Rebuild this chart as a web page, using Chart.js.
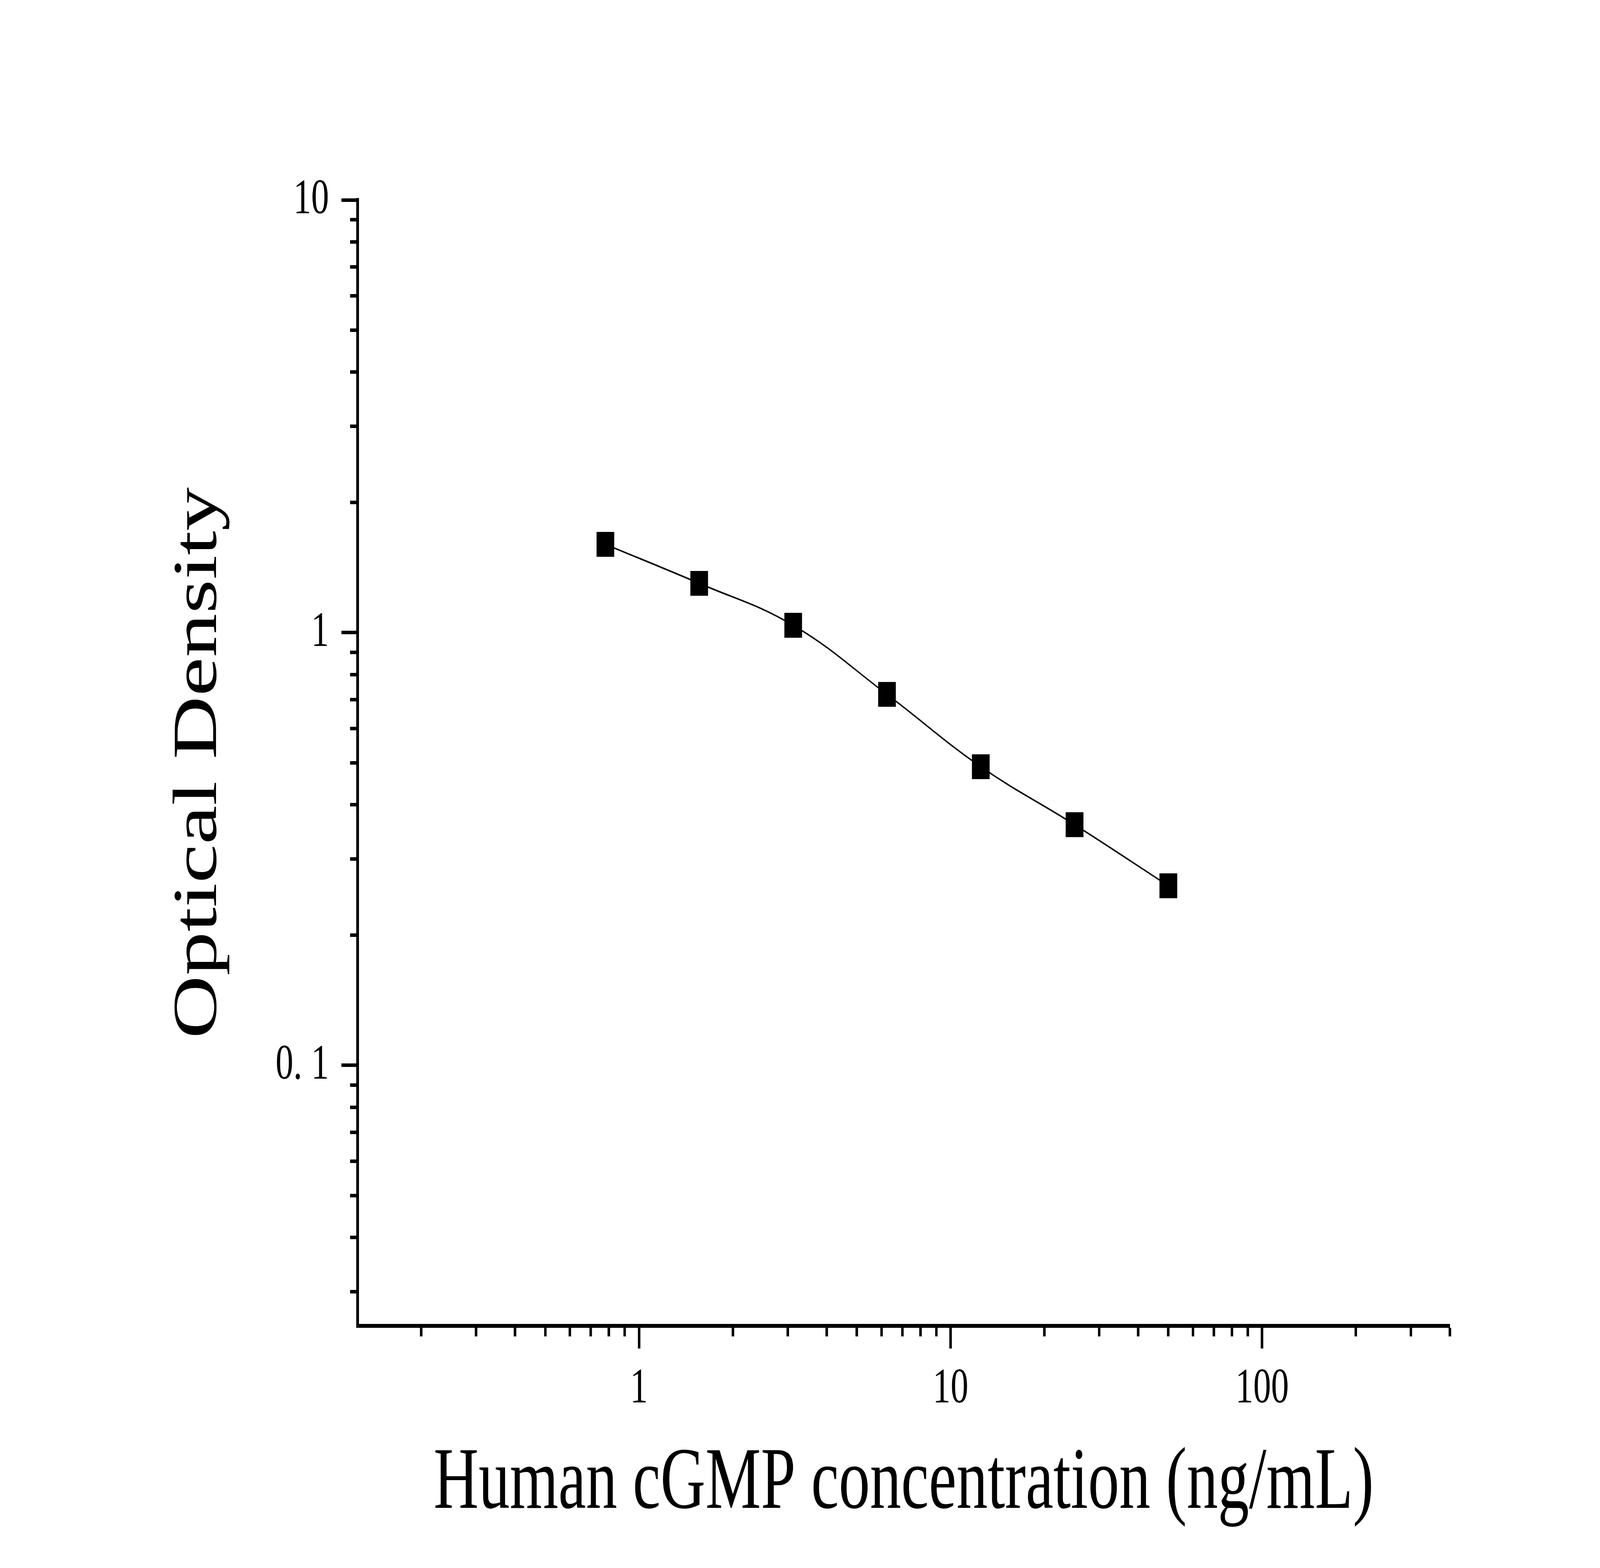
<!DOCTYPE html>
<html>
<head>
<meta charset="utf-8">
<title>Human cGMP standard curve</title>
<script src="https://cdn.jsdelivr.net/npm/chart.js@4.4.1/dist/chart.umd.min.js"></script>
<style>
  html, body { margin: 0; padding: 0; background: #fff; overflow: hidden; }
  /* El lienzo se dibuja a 5749 x 4015 y se ajusta a la ventana */
  #chartCurva { display: block; width: 100vw; height: 100vh; }
</style>
</head>
<body>
<canvas id="chartCurva" width="5749" height="4015" style="width: 100vw; height: 100vh"></canvas>
<script>
// DATOS DE LA CURVA ESTÁNDAR

const concentraciones = [0.78, 1.56, 3.125, 6.25, 12.5, 25, 50];
const densidades = [1.6, 1.3, 1.04, 0.72, 0.49, 0.36, 0.26];

// Marcas de los ejes
const xMayores = [1, 10, 100];
const xMenores = [0.2, 0.3, 0.4, 0.5, 0.6, 0.7, 0.8, 0.9,
  2, 3, 4, 5, 6, 7, 8, 9,
  20, 30, 40, 50, 60, 70, 80, 90,
  200, 300, 400];
const xEtiquetas = ["1", "10", "100"];

const yMayores = [0.1, 1, 10];
const yMenores = [0.03, 0.04, 0.05, 0.06, 0.07, 0.08, 0.09,
  0.2, 0.3, 0.4, 0.5, 0.6, 0.7, 0.8, 0.9,
  2, 3, 4, 5, 6, 7, 8, 9];
const yEtiquetas = ["0. 1", "1", "10"];

const fuente = "'Liberation Serif', 'Times New Roman', serif";

function marcas(mayores, menores) {
  return function (scale) {
    scale.ticks = mayores.concat(menores)
      .sort((a, b) => a - b)
      .map((v) => ({ value: v }));
  };
}

function etiqueta(mayores, textos) {
  return function (value) {
    const i = mayores.indexOf(value);
    return i === -1 ? "" : textos[i];
  };
}

// Las marcas menores son más cortas: se recortan con un guion
function guionX(ctx) {
  if (!ctx.tick || xMayores.includes(ctx.tick.value)) return [];
  return [22, 1000];
}
function guionY(ctx) {
  if (!ctx.tick || yMayores.includes(ctx.tick.value)) return [];
  return [0, 31, 40, 1000];
}

document.addEventListener("DOMContentLoaded", function () {
  const ctx = document.getElementById("chartCurva").getContext("2d");

  new Chart(ctx, {
    type: "scatter",
    data: {
      datasets: [
        {
          data: concentraciones.map((x, i) => ({ x: x, y: densidades[i] })),
          showLine: true,
          tension: 0.4,
          borderColor: "#000",
          borderWidth: 4,
          backgroundColor: "#000",
          pointStyle: "rect",
          pointRadius: 45,
          pointBorderWidth: 0,
        },
      ],
    },
    options: {
      responsive: false,
      devicePixelRatio: 1,
      animation: false,
      events: [],
      layout: {
        padding: { left: 0, top: 512, right: 540, bottom: 0 },
      },
      plugins: {
        legend: { display: false },
        tooltip: { enabled: false },
      },
      scales: {
        x: {
          type: "logarithmic",
          position: "bottom",
          min: 0.125,
          max: 400,
          afterBuildTicks: marcas(xMayores, xMenores),
          afterFit: (scale) => {
            scale.height = 620;
          },
          border: { display: true, width: 10, color: "#000" },
          grid: {
            drawOnChartArea: false,
            drawTicks: true,
            tickLength: 58,
            tickWidth: 9,
            tickColor: "#000",
            tickBorderDash: guionX,
          },
          ticks: {
            autoSkip: false,
            maxRotation: 0,
            padding: 28,
            color: "#000",
            font: { family: fuente, size: 128, lineHeight: 1.2 },
            callback: etiqueta(xMayores, xEtiquetas),
          },
          title: {
            display: true,
            text: "Human cGMP concentration (ng/mL)",
            color: "#000",
            font: { family: fuente, size: 224, lineHeight: 1 },
            padding: { top: 0, bottom: 101 },
          },
        },
        y: {
          type: "logarithmic",
          position: "left",
          min: 0.025,
          max: 10,
          afterBuildTicks: marcas(yMayores, yMenores),
          afterFit: (scale) => {
            scale.width = 1285;
          },
          border: { display: true, width: 10, color: "#000" },
          grid: {
            drawOnChartArea: false,
            drawTicks: true,
            tickLength: 58,
            tickWidth: 9,
            tickColor: "#000",
            tickBorderDash: guionY,
          },
          ticks: {
            autoSkip: false,
            padding: 45,
            color: "#000",
            font: { family: fuente, size: 128, lineHeight: 1.2 },
            callback: etiqueta(yMayores, yEtiquetas),
          },
          title: {
            display: true,
            text: "Optical Density",
            color: "#000",
            font: { family: fuente, size: 224, lineHeight: 1 },
            padding: { top: 605, bottom: 0 },
          },
        },
      },
    },
  });
});
</script>
</body>
</html>
